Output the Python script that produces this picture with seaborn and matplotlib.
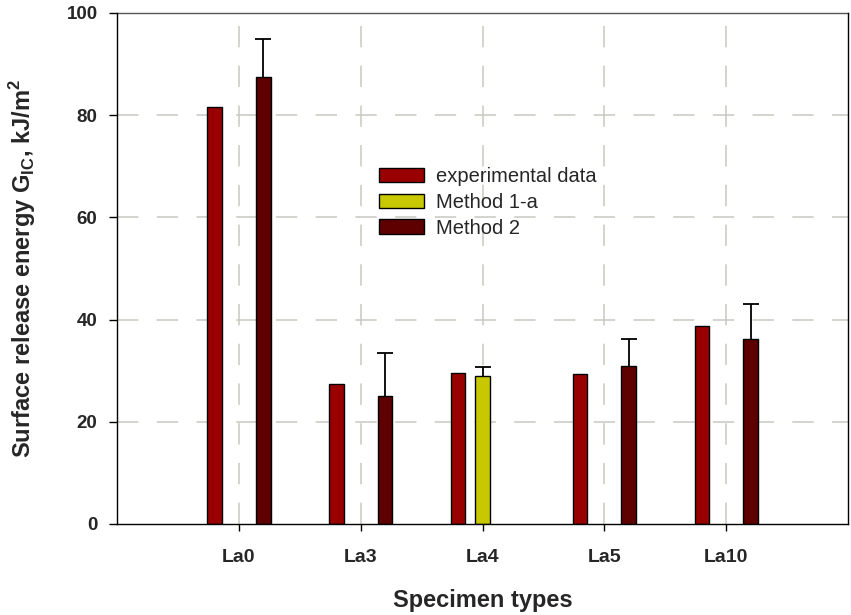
import numpy as np
import pandas as pd
import seaborn as sns
import matplotlib.pyplot as plt

specimens = ['La0', 'La3', 'La4', 'La5', 'La10']
series = ['experimental data', 'Method 1-a', 'Method 2']

# experimental G_IC for every specimen (no error bar shown)
exp_vals = [81.5, 27.3, 29.5, 29.4, 38.8]

# method 1-a was only applied to La4
m1a_specimens = ['La4']
m1a_vals = [29.0]
m1a_upper = [30.8]

# method 2 for the others
m2_specimens = ['La0', 'La3', 'La5', 'La10']
m2_vals = [87.5, 25.0, 31.0, 36.1]
m2_upper = [94.9, 33.5, 36.1, 43.1]

colors = {'experimental data': '#990000', 'Method 1-a': '#c8c800', 'Method 2': '#5e0000'}

#long table for seaborn
rows = []
for s, v in zip(specimens, exp_vals):
    rows.append([s, 'experimental data', v, np.nan])
for s, v, u in zip(m1a_specimens, m1a_vals, m1a_upper):
    rows.append([s, 'Method 1-a', v, u])
for s, v, u in zip(m2_specimens, m2_vals, m2_upper):
    rows.append([s, 'Method 2', v, u])
df = pd.DataFrame(rows, columns=['specimen', 'series', 'G', 'upper'])

sns.set_style('white')
plt.rcParams['font.family'] = ['Liberation Sans', 'DejaVu Sans']
plt.rcParams['mathtext.fontset'] = 'custom'
plt.rcParams['mathtext.bf'] = 'Liberation Sans:bold'
plt.rcParams['mathtext.rm'] = 'Liberation Sans:bold'

fig = plt.figure(figsize=(8.51, 6.15), dpi=100)
ax = fig.add_axes([0.1375, 0.148, 0.859, 0.831])

sns.barplot(data=df, x='specimen', y='G', hue='series', order=specimens, hue_order=series,
            palette=colors, saturation=1, width=0.6, gap=0.4, edgecolor='black',
            linewidth=1, errorbar=None, ax=ax, zorder=3)

# upper-only error bars on the computed values
bar_groups = list(ax.containers)
for cont, level in zip(bar_groups, series):
    sub = df[df.series == level].copy()
    sub['pos'] = sub.specimen.map(specimens.index)
    sub = sub.sort_values('pos')
    for bar, up in zip(cont, sub.upper):
        if np.isnan(up):
            continue
        x = bar.get_x() + bar.get_width() / 2
        h = bar.get_height()
        eb = ax.errorbar(x, h, yerr=[[0], [up - h]], color='black', lw=1.3,
                         capsize=5.5, capthick=1.3, zorder=4)
        eb[1][0].set_visible(False)  # hide the cap sitting on the bar top

ax.set_xlim(-1, 5)
ax.set_ylim(0, 100)
ax.set_yticks([0, 20, 40, 60, 80, 100])

ax.grid(True, color='#c9c9c1', linestyle=(0, (14, 12)), linewidth=1.1)
ax.set_axisbelow(True)
# no grid on the frame itself
ygl = ax.yaxis.get_gridlines()
ygl[0].set_visible(False)
ygl[-1].set_visible(False)

for side in ['left', 'bottom', 'right']:
    ax.spines[side].set_color('black')
    ax.spines[side].set_linewidth(1)
    ax.spines[side].set_zorder(5)
ax.spines['top'].set_color('#555555')
ax.spines['top'].set_linewidth(1)

ax.tick_params(axis='both', which='major', direction='out', width=1, color='black')
ax.tick_params(axis='x', pad=13, length=5, labelsize=14)
ax.tick_params(axis='y', pad=8, length=6, labelsize=13.5)
ax.tick_params(left=True, bottom=True)
for lab in ax.get_xticklabels() + ax.get_yticklabels():
    lab.set_fontweight('bold')

ax.set_xlabel('Specimen types', fontsize=17, fontweight='bold')
ax.set_ylabel(r'Surface release energy G$_{\mathbf{IC}}$, kJ/m$^{\mathbf{2}}$',
              fontsize=17, fontweight='bold')
ax.xaxis.set_label_coords(0.5, -0.127)
ax.yaxis.set_label_coords(-0.108, 0.5)

ax.legend(loc='upper left', bbox_to_anchor=(0.358, 0.698), frameon=False,
          fontsize=14.5, handlelength=2.25, handleheight=0.7, handletextpad=0.6,
          labelspacing=0.33, borderpad=0, borderaxespad=0)

fig.savefig('out.png', dpi=100)
